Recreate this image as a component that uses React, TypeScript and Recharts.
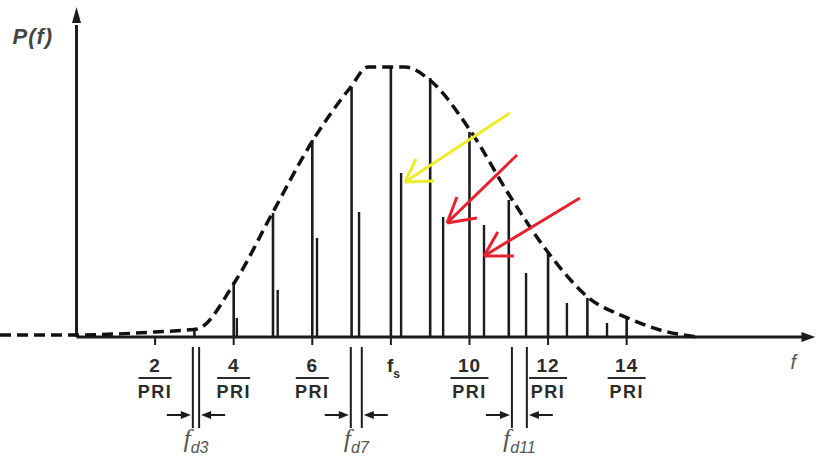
import React from 'react';
import { ComposedChart, Line, XAxis, YAxis, ReferenceLine, Scatter } from 'recharts';

// Spectral line positions (in units of 1/PRI) and heights (relative power)
const harmonics = [3, 4, 5, 6, 7, 8, 9, 10, 11, 12, 13, 14];
const clutterPower = [8, 55, 124, 197, 250, 270, 259, 205, 137, 84, 39, 19];
const targetFreq = [4.08, 5.12, 6.12, 7.19, 8.26, 9.33, 10.37, 11.44, 12.48, 13.5];
const targetPower = [19, 47, 99, 125, 164, 120, 112, 64, 34, 14];

// Dashed envelope
const envelopeX = [-1.947, -1, 0, 1, 2, 2.8, 3.07, 4.03, 5.0, 6.02, 6.96, 7.42, 7.97, 8.36, 8.99, 10.01, 11.06, 12.05, 13.04, 14.03, 14.85, 15.79];
const envelopeY = [2, 2, 2, 3, 5, 7, 8, 55, 125, 197, 249, 270, 270, 270, 257, 207, 139, 82, 39, 19, 7, 0];

// Tick labels
const tickPositions = [2, 4, 6, 10, 12, 14];
const tickNumerators = ['2', '4', '6', '10', '12', '14'];
const fsPosition = 8;

// Doppler markers
const dopplerNames = ['d3', 'd7', 'd11'];
const dopplerLeft = [2.96, 6.98, 11.08];
const dopplerRight = [3.12, 7.26, 11.46];

// Annotation arrows (start, tip, head1, head2) in data coords
const arrowColors = ['#ecec2a', '#e8222c', '#e8222c'];
const arrowStart = [[11.03, 224], [11.21, 182], [12.81, 139]];
const arrowTip = [[8.36, 155], [9.43, 114], [10.37, 81]];
const arrowHeadA = [[8.64, 178], [9.68, 140], [10.72, 105]];
const arrowHeadB = [[9.1, 156], [10.19, 119], [11.13, 81]];

const X_DOMAIN: [number, number] = [-1.947, 18.92];
const Y_DOMAIN: [number, number] = [0, 327];

const envelopeData = envelopeX.map((x, i) => ({ x, y: envelopeY[i] }));
const tickData = tickPositions.map((x, i) => ({ x, y: 0, label: tickNumerators[i] }));
const fsData = [{ x: fsPosition, y: 0 }];
const dopplerEdgeData = [
  ...dopplerLeft.map((x) => ({ x, y: 0, side: 'left' })),
  ...dopplerRight.map((x) => ({ x, y: 0, side: 'right' })),
];
const dopplerLabelData = dopplerNames.map((name, i) => ({ x: (dopplerLeft[i] + dopplerRight[i]) / 2, y: 0, name }));
const yAxisTop = [{ x: 0, y: 312 }];
const xAxisEnd = [{ x: 18.6, y: 0 }];

const INK = '#1c1c1c';
const TEXT = '#2b2b2b';

const FracTick = (p: any) => {
  const { cx, cy, payload } = p;
  const half = payload.label.length > 1 ? 19 : 16.5;
  return (
    <g>
      <line x1={cx} x2={cx} y1={cy} y2={cy + 8} stroke={INK} strokeWidth={2} />
      <text x={cx} y={cy + 35} textAnchor="middle" fontFamily="Liberation Sans, Arial, sans-serif" fontWeight={700} fontSize={19} letterSpacing={1} fill={TEXT}>{payload.label}</text>
      <line x1={cx - half} x2={cx + half} y1={cy + 41} y2={cy + 41} stroke={TEXT} strokeWidth={2} />
      <text x={cx} y={cy + 61} textAnchor="middle" fontFamily="Liberation Sans, Arial, sans-serif" fontWeight={700} fontSize={18} letterSpacing={1.5} fill={TEXT}>PRI</text>
    </g>
  );
};

const FsTick = (p: any) => {
  const { cx, cy } = p;
  return (
    <g>
      <line x1={cx} x2={cx} y1={cy} y2={cy + 8} stroke={INK} strokeWidth={2} />
      <text x={cx - 4} y={cy + 35} fontFamily="Liberation Sans, Arial, sans-serif" fontWeight={700} fontSize={19} fill={TEXT}>
        f<tspan dy={6} fontSize={12}>s</tspan>
      </text>
    </g>
  );
};

const DopplerEdge = (p: any) => {
  const { cx, cy, payload } = p;
  const ay = cy + 78;
  const left = payload.side === 'left';
  const tipX = left ? cx - 2 : cx + 2;
  const tailX = left ? cx - 26 : cx + 26;
  const dir = left ? -1 : 1;
  return (
    <g>
      <line x1={cx} x2={cx} y1={cy + 10} y2={cy + 91} stroke={INK} strokeWidth={2} />
      <line x1={tailX} x2={tipX + dir * 6} y1={ay} y2={ay} stroke={INK} strokeWidth={2} />
      <polygon points={`${tipX},${ay} ${tipX + dir * 10},${ay - 4} ${tipX + dir * 10},${ay + 4}`} fill={INK} />
    </g>
  );
};

const DopplerLabel = (p: any) => {
  const { cx, cy, payload } = p;
  return (
    <text x={cx} y={cy + 110} textAnchor="middle" fontFamily="Liberation Serif, Times New Roman, serif" fontStyle="italic" fontSize={26} fill="#555">
      f<tspan dy={6} fontSize={16} fontFamily="Liberation Sans, Arial, sans-serif">{payload.name}</tspan>
    </text>
  );
};

const YArrow = (p: any) => {
  const { cx, cy } = p;
  return (
    <g>
      <polygon points={`${cx},${cy - 18} ${cx - 4.5},${cy - 2} ${cx + 4.5},${cy - 2}`} fill={INK} />
      <text x={cx - 64} y={cy + 19} fontFamily="Liberation Sans, Arial, sans-serif" fontStyle="italic" fontWeight={700} fontSize={22} letterSpacing={1} fill="#444">P(f)</text>
    </g>
  );
};

const XArrow = (p: any) => {
  const { cx, cy } = p;
  return (
    <g>
      <polygon points={`${cx + 8},${cy} ${cx - 6},${cy - 5} ${cx - 6},${cy + 5}`} fill={INK} />
      <text x={cx - 17} y={cy + 32} fontFamily="Liberation Sans, Arial, sans-serif" fontStyle="italic" fontSize={20} fill="#555">f</text>
    </g>
  );
};

export default function App() {
  return (
    <div style={{ position: 'absolute', left: 0, top: 0, width: 822, height: 468, background: '#fff' }}>
      <ComposedChart width={822} height={468} data={envelopeData} margin={{ top: 10, right: 2, bottom: 131, left: 0 }}>
        <XAxis hide dataKey="x" type="number" domain={X_DOMAIN} />
        <YAxis hide type="number" domain={Y_DOMAIN} />

        {/* axes */}
        <ReferenceLine ifOverflow="visible" segment={[{ x: 0, y: 0 }, { x: 18.6, y: 0 }]} stroke={INK} strokeWidth={3} />
        <ReferenceLine ifOverflow="visible" segment={[{ x: 0, y: 0 }, { x: 0, y: 312 }]} stroke={INK} strokeWidth={3} />

        {/* clutter lines */}
        {harmonics.map((h, i) => (
          <ReferenceLine key={'c' + i} ifOverflow="visible" segment={[{ x: h, y: 0 }, { x: h, y: clutterPower[i] }]} stroke={INK} strokeWidth={2.6} />
        ))}
        {/* target (doppler shifted) lines */}
        {targetFreq.map((f, i) => (
          <ReferenceLine key={'t' + i} ifOverflow="visible" segment={[{ x: f, y: 0 }, { x: f, y: targetPower[i] }]} stroke={INK} strokeWidth={2.4} />
        ))}

        <Line type="monotone" dataKey="y" stroke="#111" strokeWidth={3.5} strokeDasharray="11 6" dot={false} isAnimationActive={false} />

        {/* annotation arrows */}
        {arrowColors.map((c, i) => (
          <ReferenceLine key={'as' + i} ifOverflow="visible" segment={[{ x: arrowStart[i][0], y: arrowStart[i][1] }, { x: arrowTip[i][0], y: arrowTip[i][1] }]} stroke={c} strokeWidth={3} />
        ))}
        {arrowColors.map((c, i) => (
          <ReferenceLine key={'ha' + i} ifOverflow="visible" segment={[{ x: arrowHeadA[i][0], y: arrowHeadA[i][1] }, { x: arrowTip[i][0], y: arrowTip[i][1] }]} stroke={c} strokeWidth={3} />
        ))}
        {arrowColors.map((c, i) => (
          <ReferenceLine key={'hb' + i} ifOverflow="visible" segment={[{ x: arrowHeadB[i][0], y: arrowHeadB[i][1] }, { x: arrowTip[i][0], y: arrowTip[i][1] }]} stroke={c} strokeWidth={3} />
        ))}

        <Scatter data={tickData} dataKey="y" shape={FracTick} isAnimationActive={false} />
        <Scatter data={fsData} dataKey="y" shape={FsTick} isAnimationActive={false} />
        <Scatter data={dopplerEdgeData} dataKey="y" shape={DopplerEdge} isAnimationActive={false} />
        <Scatter data={dopplerLabelData} dataKey="y" shape={DopplerLabel} isAnimationActive={false} />
        <Scatter data={yAxisTop} dataKey="y" shape={YArrow} isAnimationActive={false} />
        <Scatter data={xAxisEnd} dataKey="y" shape={XArrow} isAnimationActive={false} />
      </ComposedChart>
    </div>
  );
}
